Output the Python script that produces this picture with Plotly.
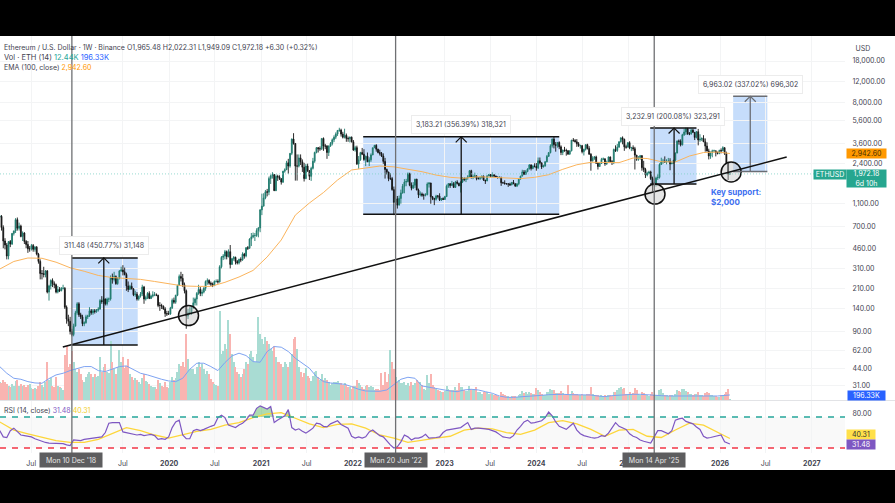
import pandas as pd
import plotly.graph_objects as go

W = 895
H = 503

# weekly bars, one row = 13 weeks, first bar is 2018-02-26
close = [
    860,690,530,490,395,525,500,615,645,805,680,710,580,
    620,525,495,455,455,485,450,470,410,355,280,280,275,
    295,195,220,245,230,225,195,205,200,210,210,145,115,
    110,90,85,100,130,155,125,120,105,107,120,122,135,
    130,135,133,137,140,165,162,170,155,170,170,260,250,
    265,230,255,295,300,290,275,220,205,218,208,185,187,
    170,180,188,215,170,175,190,172,180,185,185,183,150,
    150,148,140,128,127,127,143,166,160,183,222,265,255,
    225,200,122,130,130,145,158,170,190,205,190,195,210,
    240,245,232,228,221,240,240,238,320,385,395,430,390,
    430,335,375,385,355,345,370,365,410,395,465,460,550,
    575,590,590,650,685,975,1050,1230,1390,1380,1800,1900,1950,
    1420,1880,1860,1800,1680,2080,2140,2450,2300,2950,3900,3580,2300,
    2300,2700,2500,2250,1800,2300,2100,1880,2200,2530,3000,3300,3230,
    3230,3950,3400,3400,3000,3400,3580,3850,4050,4300,4620,4650,4300,
    4050,4200,3950,3930,4050,3700,3150,3300,2400,2600,3000,2900,2620,
    2790,2500,2600,2860,3290,3450,3200,3000,2950,2800,2520,2150,2050,
    1800,1800,1450,1130,1210,1070,1220,1360,1550,1680,1700,1980,1580,
    1490,1580,1780,1440,1310,1330,1300,1300,1310,1620,1650,1260,1220,
    1200,1280,1275,1185,1220,1195,1265,1550,1630,1575,1630,1515,1680,
    1640,1565,1680,1820,1770,1820,1860,2100,1850,1870,1900,1800,1800,
    1830,1890,1750,1720,1900,1950,1870,1935,1890,1860,1830,1850,1660,
    1650,1630,1620,1620,1590,1670,1630,1555,1630,1780,1890,2050,1960,
    2065,2170,2350,2195,2300,2290,2220,2550,2450,2260,2300,2500,2780,
    2990,3420,3900,3500,3450,3650,3350,3000,3150,3120,3110,2910,3100,
    3820,3800,3700,3560,3420,3430,3050,3190,3500,3250,2900,2550,2680,
    2750,2430,2280,2420,2620,2650,2410,2470,2750,2510,2470,3180,3120,
    3330,3700,4000,3880,3350,3330,3640,3280,3300,3230,2850,2630,2700,
    2820,2230,2150,1930,2000,2050,1800,1640,1610,1820,1840,2370,2500,
    2530,2500,2530,2530,2400,2430,2580,2970,3750,3740,3490,4250,4480,
    4790,4300,4300,4650,4450,4030,4510,3830,3890,3950,3700,3400,3090,
    2800,2990,3100,3100,2980,2950,3120,3100,3300,2950,2450,1965.48,1972.18,
]
high = [
    880,880,720,560,510,530,540,620,650,830,840,760,730,
    640,630,540,530,480,500,500,480,480,420,370,300,320,
    300,300,225,250,255,240,230,220,215,215,225,215,150,
    125,120,95,105,135,160,160,130,125,110,125,125,145,
    140,140,140,140,145,170,180,175,172,175,175,270,280,
    290,270,260,300,320,330,315,285,240,225,235,210,200,
    195,182,195,225,220,182,195,198,185,198,195,190,185,
    160,155,150,145,135,135,146,172,175,185,225,275,290,
    278,235,205,140,145,147,175,175,195,225,215,205,215,
    245,255,250,240,235,245,250,250,330,395,410,445,440,
    450,490,380,395,390,365,375,385,425,420,470,480,560,
    620,625,620,680,695,990,1340,1350,1440,1470,1870,1950,2040,
    1960,1950,1940,1920,1800,2090,2200,2550,2650,2950,3950,4380,3600,
    2890,2890,2890,2620,2450,2400,2410,2130,2270,2700,3050,3340,3330,
    3380,3960,4030,3550,3470,3450,3680,3950,4200,4450,4660,4870,4780,
    4500,4780,4350,4100,4100,4100,3830,3420,3430,2800,3040,3280,3200,
    2820,3000,2730,2950,3300,3480,3530,3230,3170,3030,2950,2700,2190,
    2030,2000,1860,1540,1280,1280,1290,1450,1620,1780,1790,2030,2020,
    1670,1680,1790,1790,1480,1400,1370,1340,1350,1670,1680,1660,1280,
    1235,1310,1305,1350,1230,1245,1285,1600,1650,1640,1720,1680,1720,
    1740,1660,1710,1850,1830,1830,1925,2130,2140,1950,2020,1910,1850,
    1880,1910,1910,1750,1910,1950,1960,2030,1960,1910,1870,1880,1860,
    1690,1740,1630,1640,1660,1680,1750,1640,1630,1810,1900,2140,2130,
    2130,2200,2390,2380,2340,2430,2440,2720,2720,2460,2360,2530,2860,
    3030,3520,3950,4090,3680,3680,3730,3450,3170,3350,3230,3130,3120,
    3840,3980,3900,3900,3680,3500,3480,3230,3510,3560,3400,2960,2790,
    2800,2820,2490,2470,2700,2720,2670,2560,2770,2770,2590,3240,3450,
    3550,3740,4020,4110,3940,3500,3670,3740,3350,3450,3350,2860,2800,
    2860,2850,2550,2220,2060,2100,2100,1870,1690,1870,1960,2430,2710,
    2650,2780,2630,2700,2680,2510,2590,3000,3800,3870,3880,4330,4780,
    4890,4870,4480,4770,4770,4460,4560,4760,4290,4030,4210,3950,3660,
    3230,3060,3170,3170,3080,3050,3170,3250,3390,3310,3050,2500,2022.31,
]
low = [
    840,650,460,450,370,370,470,490,590,620,650,650,570,
    530,500,460,420,430,440,430,430,400,340,250,250,260,
    260,190,165,205,215,210,190,190,195,198,205,140,105,
    100,85,82,82,100,125,120,115,100,100,105,115,120,
    125,125,128,130,133,138,155,155,150,150,160,165,230,
    240,225,225,250,290,270,270,200,195,205,205,180,178,
    165,165,175,180,155,165,170,170,170,175,180,180,145,
    135,140,138,120,122,125,125,140,155,155,180,220,240,
    215,190,95,115,125,125,140,150,150,185,180,180,190,
    200,225,225,220,215,220,235,230,235,310,365,370,370,
    385,310,335,360,335,335,335,350,360,375,385,445,455,
    480,560,530,575,570,630,880,1040,1200,1270,1300,1620,1800,
    1420,1410,1720,1750,1600,1650,2020,2130,1980,2230,2850,3500,1730,
    1730,2240,2350,2050,1700,1780,2050,1750,1720,2150,2450,2950,3000,
    3100,3150,3100,3200,2650,2800,3350,3450,3680,3900,4150,4500,4100,
    3950,3950,3700,3700,3650,3650,3100,3050,2350,2180,2550,2850,2550,
    2300,2500,2300,2500,2850,3280,3050,2950,2830,2750,2400,1800,1950,
    1710,1750,1420,880,1050,1000,1070,1100,1340,1350,1550,1670,1550,
    1430,1480,1500,1430,1230,1270,1260,1190,1270,1300,1510,1100,1180,
    1070,1170,1220,1160,1160,1190,1190,1255,1500,1500,1560,1500,1500,
    1600,1550,1370,1650,1710,1680,1760,1850,1800,1780,1820,1740,1770,
    1750,1800,1720,1620,1710,1880,1850,1850,1850,1840,1810,1820,1560,
    1640,1600,1610,1530,1560,1580,1610,1530,1525,1580,1770,1880,1930,
    1930,2040,2160,2110,2160,2240,2100,2170,2380,2170,2240,2280,2480,
    2850,2950,3300,3250,3050,3300,3200,2850,2850,3040,2820,2860,2860,
    3070,3700,3650,3350,3350,3240,2950,2830,3120,3180,2870,2100,2510,
    2600,2410,2150,2270,2400,2580,2310,2350,2450,2460,2350,2390,3030,
    3040,3300,3640,3520,3100,3230,3330,3200,3080,3100,2150,2550,2550,
    2600,2100,2050,1820,1880,1960,1750,1400,1550,1540,1750,1800,2400,
    2400,2450,2380,2480,2120,2400,2420,2500,2950,3500,3380,3440,4150,
    4230,4250,4210,4270,4400,3830,3950,3450,3700,3750,3680,3050,3060,
    2620,2650,2730,3050,2780,2890,2900,2950,3080,2860,2400,1750,1949.09,
]
volume = [
    700,650,800,720,620,540,520,640,560,760,780,560,620,
    560,600,520,600,640,480,430,460,420,560,700,600,520,
    720,1500,780,850,560,520,900,560,520,480,400,1750,2100,
    1300,1400,1900,1500,1200,1100,1200,1000,800,700,900,1000,1100,
    1000,900,1000,900,950,1700,1100,1300,1400,1100,1050,2300,1500,
    1200,1000,1300,1950,1500,1700,1250,1350,1600,1000,900,800,850,
    800,720,640,850,1000,760,700,640,550,520,500,420,800,
    650,550,500,700,500,480,720,900,800,850,1100,1400,1350,
    1500,1300,2600,1600,1200,1200,1200,1000,1300,1500,1300,1400,1200,
    1000,1150,1000,820,700,620,600,560,3500,1800,1900,2200,2000,
    3140,2600,1800,1500,1300,1100,1000,900,1000,1200,1500,1400,1800,
    1900,1700,1500,1800,3250,2600,2400,2200,2480,2300,2200,2000,1900,
    2100,1700,1500,1500,1400,1300,1500,1400,1300,1500,1800,2400,2450,
    2000,1300,1100,900,1050,1250,950,850,750,950,1100,1150,900,
    800,1000,800,850,800,700,600,650,700,700,750,650,650,
    600,650,600,500,500,450,550,550,800,650,600,500,450,
    550,600,500,550,500,400,450,420,400,1050,600,1100,700,
    1000,1960,1500,1200,900,700,800,650,650,700,600,650,550,
    700,600,650,800,700,700,600,450,400,980,650,1000,600,
    500,450,400,350,300,300,350,550,450,400,400,400,500,
    400,650,500,500,400,350,350,550,420,400,450,500,300,
    300,250,300,300,300,250,230,250,200,180,150,130,300,
    250,180,170,170,130,150,170,170,130,200,220,350,280,
    300,240,300,260,240,230,460,400,300,240,200,200,320,
    330,420,380,400,290,260,280,360,260,210,180,590,240,
    350,260,230,220,200,180,250,200,200,220,250,500,220,
    200,200,180,170,190,170,180,160,190,180,170,300,300,
    400,480,520,420,480,250,240,300,250,280,480,380,220,
    200,320,260,210,180,170,220,300,200,200,200,380,420,
    280,200,180,170,210,180,140,240,400,350,300,420,430,
    360,300,220,230,190,230,240,300,210,180,170,260,300,
    260,180,180,160,160,130,120,180,200,220,300,420,12.44,
]
# every 4th week
vol_ma = [
    1309,1047,851,811,720,668,655,838,982,1047,1152,1217,1309,1309,1152,1113,1217,1309,1335,1204,
    1047,982,890,811,746,720,851,1204,1440,1440,1309,1152,1466,1728,1833,1741,1505,1479,1898,2094,
    2068,1898,1636,1440,1244,916,720,668,641,615,524,419,353,340,340,393,589,812,890,851,
    550,497,445,393,353,327,393,419,393,327,262,157,105,105,118,131,157,183,209,223,
    223,209,209,209,196,157,131,170,196,223,223,223,196,183,170,157,157,157,131,131,
    144,157,157,196.33,
]
# every 8th week, last one is the current bar
ema100 = [
    306,355,380,378,350,314,293,270,259,256,250,240,230,220,218,218,236,262,298,388,541,880,
    1116,1370,1750,2130,2213,2301,2265,2158,2060,1928,1845,1811,1866,1845,1820,1799,1845,1941,
    2158,2360,2477,2480,2460,2692,2667,2506,2490,2799,2999,3027,2942.60,
]
# every 2nd week, last one is the current bar
rsi = [
    53,43,42,53,57,52,46,45,44,43,40,38,35,34,33,33,33,33,32,30,29,38,37,37,39,40,40,41,42,43,
    50,65,66,66,66,51,50,49,48,46,47,45,46,47,45,39,40,39,43,58,67,70,46,40,40,53,55,53,55,58,
    60,62,74,78,74,62,60,58,62,65,70,78,78,89,93,91,88,92,66,70,73,77,87,58,54,
    56,52,49,53,57,65,64,60,59,64,67,69,63,60,57,44,41,43,41,43,51,54,49,45,43,36,30,25,27,35,
    46,43,38,41,41,43,47,41,41,42,43,50,54,55,55,57,58,62,66,55,57,57,57,56,55,53,51,47,43,42,
    41,45,54,60,67,70,65,66,67,69,74,83,77,67,60,57,55,60,65,54,48,45,43,42,41,
    42,45,44,49,57,66,60,57,55,48,44,42,38,36,34,33,43,53,53,51,48,53,70,72,73,68,66,64,59,55,
    44,41,42,43,45,46,35,31.48,
]
# every 8th week, last one is the current bar
rsi_ma = [
    67,54,48,42,37,34,34,39,48,58,53,46,41,46,52,55,62,66,74,80,82,73,
    64,58,63,64,57,46,41,34,38,41,44,54,57,56,50,47,54,66,69,64,55,
    44,54,55,44,42,54,65,62,50,40.31,
]

price_ticks = [18000,12000,8000,5600,3600,2400,1100,700,460,310,210,140,90,62,44,31]
# 2019, Jul 2022 and Jul 2025 sit under the date boxes, so they are left out
time_ticks = [
    ("2018-07-01","Jul"),("2019-07-01","Jul"),
    ("2020-01-01","<b>2020</b>"),("2020-07-01","Jul"),("2021-01-01","<b>2021</b>"),
    ("2021-07-01","Jul"),("2022-01-01","<b>2022</b>"),
    ("2023-01-01","<b>2023</b>"),("2023-07-01","Jul"),("2024-01-01","<b>2024</b>"),
    ("2024-07-01","Jul"),("2025-01-01","<b>2025</b>"),
    ("2026-01-01","<b>2026</b>"),("2026-07-01","Jul"),("2027-01-01","<b>2027</b>"),
]

# measure tools: start, end, arrow date, low price, high price, label
measures = [
    ("2018-12-10","2019-08-29","2019-04-16",69.1,380.6,"311.48 (450.77%) 31,148"),
    ("2022-02-11","2024-04-01","2023-03-08",893.2,4076.4,"3,183.21 (356.39%) 318,321"),
    ("2025-03-29","2025-09-29","2025-07-02",1615.8,4848.7,"3,232.91 (200.08%) 323,291"),
    ("2026-02-22","2026-07-08","2026-05-01",2066,9029,"6,963.02 (337.02%) 696,302"),
]
pivot_dates = ["2018-12-10","2022-06-20","2025-04-14"]
pivot_labels = ["Mon 10 Dec '18","Mon 20 Jun '22","Mon 14 Apr '25"]
circle_dates = ["2020-03-18","2025-04-17","2026-02-14"]
circle_prices = [123,1330,2047]

assert len(close) == len(high) == len(low) == len(volume), (len(close), len(high), len(low), len(volume))

dates = pd.date_range(end="2026-02-09", periods=len(close), freq="7D")
opens = [850] + close[:-1]
vol_colors = ["#a9dcd3" if c >= o else "#f9b4b1" for o, c in zip(opens, close)]

FONT = "Inter, 'Noto Sans', sans-serif"
SMALL = 7
X_START = "2018-02-27"
X_END = "2027-05-13"
PLOT_RIGHT = 845


def px(x):
    return x / W


def py(y):
    return 1 - y / H


def sampled(values, step):
    xs = list(dates[::step][:len(values) - 1])
    return xs + [dates[-1]]


def label(x, y, text, color="#3f4350", size=SMALL, anchor="left", **kw):
    return dict(xref="paper", yref="paper", x=px(x), y=py(y), text=text, showarrow=False,
                xanchor=anchor, yanchor="middle", font=dict(family=FONT, size=size, color=color),
                **kw)


def chip(x, y, w, h, text, bg, color="white", size=SMALL, align="center"):
    return label(x, y, text, color=color, size=size, bgcolor=bg, width=w, height=h,
                 align=align, borderpad=0)


fig = go.Figure()

fig.add_trace(go.Bar(x=dates, y=volume, marker=dict(color=vol_colors, line_width=0),
                     yaxis="y", xaxis="x", width=7 * 24 * 3600 * 1000 * 0.62))
fig.add_trace(go.Scatter(x=list(dates[::4][:len(vol_ma) - 1]) + [dates[-1]], y=vol_ma, mode="lines",
                         line=dict(color="#7ea3f2", width=1), yaxis="y", xaxis="x"))

fig.add_trace(go.Candlestick(x=dates, open=opens, high=high, low=low, close=close, yaxis="y2", xaxis="x",
                             increasing=dict(line=dict(color="#1f7a6d", width=0.9), fillcolor="#1f7a6d"),
                             decreasing=dict(line=dict(color="#141414", width=0.9), fillcolor="#141414"),
                             whiskerwidth=0))
fig.add_trace(go.Scatter(x=sampled(ema100, 8), y=ema100, mode="lines",
                         line=dict(color="#fbb45c", width=1), yaxis="y2", xaxis="x"))
fig.add_trace(go.Scatter(x=circle_dates, y=circle_prices, mode="markers", yaxis="y2", xaxis="x",
                         marker=dict(size=20, color="rgba(190,190,190,0.4)", line=dict(color="#111", width=1.5))))

# RSI pane
rsi_x = sampled(rsi, 2)
fig.add_trace(go.Scatter(x=rsi_x, y=[75] * len(rsi), mode="lines", line=dict(width=0), yaxis="y3", xaxis="x"))
fig.add_trace(go.Scatter(x=rsi_x, y=[max(v, 75) for v in rsi], mode="lines", line=dict(width=0),
                         fill="tonexty", fillcolor="rgba(76,175,80,0.45)", yaxis="y3", xaxis="x"))
fig.add_trace(go.Scatter(x=sampled(rsi_ma, 8), y=rsi_ma, mode="lines",
                         line=dict(color="#fdd63a", width=1.3), yaxis="y3", xaxis="x"))
fig.add_trace(go.Scatter(x=rsi_x, y=rsi, mode="lines",
                         line=dict(color="#7e57c2", width=1.2), yaxis="y3", xaxis="x"))

shapes = []
annotations = []

shapes.append(dict(type="rect", xref="x", yref="y3", x0=X_START, x1=X_END, y0=25, y1=75,
                   fillcolor="rgba(0,0,0,0.025)", line_width=0, layer="below"))
shapes.append(dict(type="line", xref="x", yref="y3", x0=X_START, x1=X_END, y0=75, y1=75,
                   line=dict(color="#26a69a", width=1.5, dash="6px,6px")))
shapes.append(dict(type="line", xref="x", yref="y3", x0=X_START, x1=X_END, y0=25, y1=25,
                   line=dict(color="#f23645", width=1.5, dash="6px,6px")))
shapes.append(dict(type="line", xref="x", yref="y2", x0=X_START, x1=X_END, y0=close[-1], y1=close[-1],
                   line=dict(color="#7fd1c5", width=0.8, dash="1px,2px")))
shapes.append(dict(type="line", xref="paper", yref="paper", x0=0, x1=1, y0=py(400.5), y1=py(400.5),
                   line=dict(color="#e2e3e6", width=1)))

for start, end, mid, bottom, top, text in measures:
    edge = "#6a6d73" if start.startswith("2026") else "#111"
    shapes.append(dict(type="rect", xref="x", yref="y2", x0=start, x1=end, y0=bottom, y1=top,
                       fillcolor="rgba(120,175,245,0.42)", line_width=0, layer="below"))
    for level in (bottom, top):
        shapes.append(dict(type="line", xref="x", yref="y2", x0=start, x1=end, y0=level, y1=level,
                           line=dict(color=edge, width=1.5)))
    shapes.append(dict(type="line", xref="x", yref="y2", x0=mid, x1=mid, y0=bottom, y1=top,
                       line=dict(color=edge, width=1.3)))
    shapes.append(dict(type="path", xref="x", yref="y2", xsizemode="pixel", ysizemode="pixel",
                       xanchor=mid, yanchor=top, path="M -5.5 -5.5 L 0 0 L 5.5 -5.5",
                       line=dict(color=edge, width=1.2)))

# trend line
shapes.append(dict(type="line", xref="x", yref="y2", x0="2018-11-04", x1="2026-09-23", y0=66.5, y1=2748,
                   line=dict(color="#111", width=1.5)))

for day in pivot_dates:
    shapes.append(dict(type="line", xref="x", yref="paper", x0=day, x1=day, y0=py(453), y1=py(36),
                       line=dict(color="#6f7073", width=1.3)))

# black letterbox bands
shapes.append(dict(type="rect", xref="paper", yref="paper", x0=0, x1=1, y0=py(36), y1=1,
                   fillcolor="black", line_width=0))
shapes.append(dict(type="rect", xref="paper", yref="paper", x0=0, x1=1, y0=0, y1=py(470),
                   fillcolor="black", line_width=0))

# legend text
annotations.append(label(1.5, 47.5, "Ethereum / U.S. Dollar · 1W · Binance"))
annotations.append(label(125, 47.5, "O1,965.48 H2,022.31 L1,949.09 C1,972.18 +6.30 (+0.32%)"))
annotations.append(label(1.5, 57.5, "Vol · ETH (14) <span style='color:#26a69a'>12.44K</span> <span style='color:#2962ff'>196.33K</span>", size=7.5))
annotations.append(label(1.5, 67.5, "EMA (100, close) <span style='color:#ff9800'>2,942.60</span>"))
annotations.append(label(1.5, 410, "RSI (14, close) <span style='color:#7e57c2'>31.48</span> <span style='color:#f2cf2a'>40.31</span>"))

# measure labels
label_spots = [(104, 245), (461, 124), (673, 116), (750, 84)]
for (x, y), m in zip(label_spots, measures):
    annotations.append(label(x, y, m[5], anchor="center", bgcolor="white", bordercolor="#ececec",
                             borderwidth=1, borderpad=4))

annotations.append(label(709, 196.5, "<b>Key support:<br>$2,000</b>", color="#3d6ff0", size=8, align="left"))

# pivot date boxes
for day_x, text in zip((70.5, 395.5, 653.5), pivot_labels):
    annotations.append(dict(xref="paper", yref="paper", x=px(day_x), y=py(460), text=text, showarrow=False,
                            xanchor="center", yanchor="middle", width=62, height=14, bgcolor="#5d5d5f",
                            borderpad=0, font=dict(family=FONT, size=SMALL, color="#e8e8e8")))

# axis chips
annotations.append(chip(847, 48, 30, 12, "USD", "white", color="#3f4350"))
annotations.append(chip(813, 174.5, 32, 9, "ETHUSD", "#26a68f"))
annotations.append(chip(845.5, 178.5, 39, 17, "1,972.18<br>6d 10h", "#26a68f"))
annotations.append(chip(846, 153.5, 39, 9, "2,942.60", "#ff9800", color="#4a3000"))
annotations.append(chip(847, 395.5, 37, 9, "196.33K", "#2962ff"))
annotations.append(chip(846, 434, 28, 9, "40.31", "#ffe04a", color="#333"))
annotations.append(chip(846, 444, 28, 9, "31.48", "#7e57c2"))

fig.update_layout(
    width=W,
    height=H,
    margin=dict(l=0, r=0, t=0, b=0),
    paper_bgcolor="white",
    plot_bgcolor="white",
    showlegend=False,
    bargap=0,
    font=dict(family=FONT, size=SMALL, color="#3f4350"),
    xaxis=dict(
        domain=[0, px(PLOT_RIGHT)],
        type="date",
        range=[X_START, X_END],
        anchor="y3",
        rangeslider=dict(visible=False),
        tickvals=[t[0] for t in time_ticks],
        ticktext=[t[1] for t in time_ticks],
        tickangle=0,
        tickfont=dict(size=SMALL, color="#3f4350"),
        showgrid=True,
        gridcolor="#f3f4f5",
        gridwidth=1,
        showline=False,
        zeroline=False,
        ticks="outside",
        ticklen=4,
        tickcolor="rgba(0,0,0,0)",
    ),
    # volume shares the price pane, 196.33K sits about 5px over the baseline
    yaxis=dict(
        domain=[py(400), py(36)],
        range=[0, 14255],
        visible=False,
        fixedrange=True,
    ),
    yaxis2=dict(
        domain=[py(400), py(36)],
        overlaying="y",
        side="right",
        anchor="x",
        type="log",
        range=[1.372, 4.468],
        tickvals=price_ticks,
        ticktext=[f"{t:,.2f}" for t in price_ticks],
        tickfont=dict(size=SMALL, color="#3f4350"),
        showgrid=True,
        gridcolor="#f3f4f5",
        zeroline=False,
        showline=False,
        ticks="outside",
        ticklen=5,
        tickcolor="rgba(0,0,0,0)",
    ),
    yaxis3=dict(
        domain=[py(453), py(401)],
        side="right",
        anchor="x",
        range=[17, 100.8],
        tickvals=[80],
        ticktext=["80.00"],
        tickfont=dict(size=SMALL, color="#3f4350"),
        showgrid=False,
        zeroline=False,
        showline=False,
        ticks="outside",
        ticklen=5,
        tickcolor="rgba(0,0,0,0)",
    ),
    shapes=shapes,
    annotations=annotations,
)

fig.write_html("out.html", config=dict(displayModeBar=False),
               post_script="document.body.style.margin = '0'; document.documentElement.style.overflow = 'hidden';")
